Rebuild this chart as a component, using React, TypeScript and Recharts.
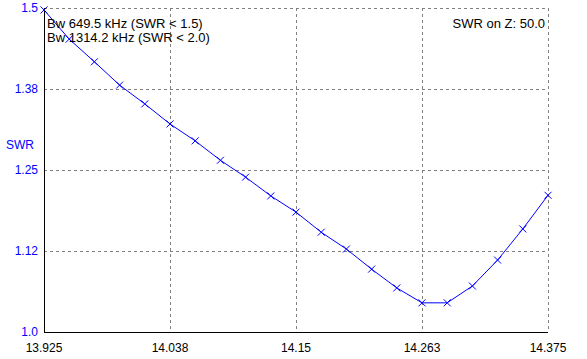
import React from 'react'
import { LineChart, Line, XAxis, YAxis, CartesianGrid } from 'recharts'

const freqs = [
  13.925, 13.9475, 13.97, 13.9925, 14.015, 14.0375, 14.06, 14.0825, 14.105, 14.1275, 14.15,
  14.1725, 14.195, 14.2175, 14.24, 14.2625, 14.285, 14.3075, 14.33, 14.3525, 14.375,
]
const swrValues = [
  1.497, 1.452, 1.417, 1.381, 1.352, 1.321, 1.295, 1.265, 1.239, 1.21, 1.185,
  1.154, 1.128, 1.097, 1.068, 1.045, 1.045, 1.071, 1.111, 1.159, 1.211,
]
const xTicks = [13.925, 14.0375, 14.15, 14.2625, 14.375]
const xTickLabels = ['13.925', '14.038', '14.15', '14.263', '14.375']
const yTicks = [1.0, 1.125, 1.25, 1.375, 1.5]
const yTickLabels = ['1.0', '1.12', '1.25', '1.38', '1.5']

const data = freqs.map((f, i) => ({ f, swr: swrValues[i] }))

const FONT = '"Liberation Sans", Arial, sans-serif'
const BLUE = '#0000ff'

function CrossDot(props: any) {
  const { cx, cy, index } = props
  if (cx == null || cy == null) return null
  return (
    <g key={`x-${index}`} stroke={BLUE} strokeWidth={1}>
      <line x1={cx - 3.5} y1={cy - 3.5} x2={cx + 3.5} y2={cy + 3.5} />
      <line x1={cx - 3.5} y1={cy + 3.5} x2={cx + 3.5} y2={cy - 3.5} />
    </g>
  )
}

export default function App() {
  return (
    <div style={{ position: 'absolute', left: 0, top: 0, width: 587, height: 359, background: '#fff', fontFamily: FONT }}>
      <LineChart width={587} height={359} data={data} margin={{ top: 8, right: 39, left: 0, bottom: 0 }}>
        <CartesianGrid stroke="#808080" strokeDasharray="3 3" shapeRendering="crispEdges" />
        <XAxis
          dataKey="f"
          type="number"
          domain={[13.925, 14.375]}
          ticks={xTicks}
          tickFormatter={(v: number) => xTickLabels[xTicks.indexOf(v)] ?? String(v)}
          axisLine={{ stroke: '#000', shapeRendering: 'crispEdges' }}
          tickLine={false}
          tickSize={0}
          tickMargin={11}
          height={27}
          tick={{ fill: '#000', fontSize: 12, fontFamily: FONT }}
          interval={0}
        />
        <XAxis xAxisId="top" orientation="top" dataKey="f" type="number" domain={[13.925, 14.375]} tick={false} tickLine={false} axisLine={{ stroke: '#000', shapeRendering: 'crispEdges' }} height={0} />
        <YAxis
          type="number"
          domain={[1.0, 1.5]}
          ticks={yTicks}
          tickFormatter={(v: number) => yTickLabels[yTicks.indexOf(v)] ?? String(v)}
          axisLine={{ stroke: '#000', shapeRendering: 'crispEdges' }}
          tickLine={false}
          tickSize={0}
          tickMargin={6}
          width={44}
          tick={{ fill: BLUE, fontSize: 12, fontFamily: FONT }}
          interval={0}
        />
        <YAxis yAxisId="right" orientation="right" type="number" domain={[1.0, 1.5]} tick={false} tickLine={false} axisLine={{ stroke: '#000', shapeRendering: 'crispEdges' }} width={0} />
        <Line
          type="linear"
          dataKey="swr"
          stroke={BLUE}
          strokeWidth={1}
          dot={<CrossDot />}
          activeDot={false}
          isAnimationActive={false}
        />
      </LineChart>
      <div style={{ position: 'absolute', left: 6, top: 138, fontSize: 12, color: BLUE }}>SWR</div>
      <div style={{ position: 'absolute', left: 47, top: 17, fontSize: 13, color: '#000', lineHeight: '14px', whiteSpace: 'pre' }}>
        {'Bw 649.5 kHz (SWR < 1.5)\nBw 1314.2 kHz (SWR < 2.0)'}
      </div>
      <div style={{ position: 'absolute', right: 42, top: 16, fontSize: 13, color: '#000', whiteSpace: 'pre' }}>SWR on Z: 50.0</div>
    </div>
  )
}
